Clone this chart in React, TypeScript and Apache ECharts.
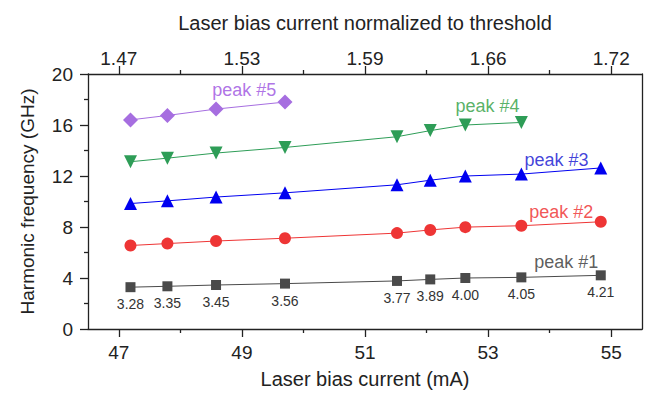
import React, { useEffect, useRef } from "react";
import * as echarts from "echarts";

const currents = [47.19, 47.79, 48.58, 49.7, 51.52, 52.06, 52.63, 53.54, 54.83];
const peak1 = [3.28, 3.35, 3.45, 3.56, 3.77, 3.89, 4.0, 4.05, 4.21];
const peak2 = [6.55, 6.7, 6.9, 7.12, 7.52, 7.77, 7.99, 8.1, 8.41];
const peak3 = [9.84, 10.05, 10.35, 10.68, 11.31, 11.67, 12.0, 12.15, 12.63];
const peak4 = [13.12, 13.4, 13.8, 14.24, 15.08, 15.56, 16.0, 16.2];
const peak5 = [16.4, 16.75, 17.25, 17.8];
const peak1Labels = ["3.28", "3.35", "3.45", "3.56", "3.77", "3.89", "4.00", "4.05", "4.21"];

const bottomTicks = [47, 49, 51, 53, 55];
const bottomMinorTicks = [48, 50, 52, 54];
const topTickLabels = ["1.47", "1.53", "1.59", "1.66", "1.72"];

const peakNames = ["peak #1", "peak #2", "peak #3", "peak #4", "peak #5"];
const peakNameX = [54.27, 54.19, 54.11, 52.99, 49.04];
const peakNameY = [5.25, 9.18, 13.25, 17.49, 18.75];

const colors = ["#4a4a4a", "#ee3535", "#0000f0", "#2e9d57", "#a66ee0"];
const textColors = ["#333333", "#ee2a2a", "#1010d0", "#2e9d40", "#9a4fe0"];
const symbols = ["rect", "circle", "triangle", "triangle", "diamond"];
const symbolSizes = [10, 12, 13, 13, 15];

const FONT = "Liberation Sans, Arial, sans-serif";

export default function App() {
  const ref = useRef<HTMLDivElement>(null);
  useEffect(() => {
    document.body.style.margin = "0";
    const chart = echarts.init(ref.current!, null, { renderer: "svg" });
    const peaks = [peak1, peak2, peak3, peak4, peak5];
    const axisLineStyle = { color: "#222", width: 1.3 };
    const series: any[] = peaks.map((vals, i) => ({
      type: "line",
      xAxisIndex: 0,
      yAxisIndex: 0,
      data: vals.map((v, j) => [currents[j], v]),
      symbol: symbols[i],
      symbolSize: symbolSizes[i],
      symbolRotate: i === 3 ? 180 : 0,
      showAllSymbol: true,
      lineStyle: { color: colors[i], width: 1 },
      itemStyle: { color: colors[i] },
      z: 3,
      label:
        i === 0
          ? {
              show: true,
              position: "bottom",
              distance: 5,
              fontFamily: FONT,
              fontSize: 14,
              color: "#333",
              formatter: (p: any) => peak1Labels[p.dataIndex],
            }
          : { show: false },
    }));
    series.push({
      type: "scatter",
      xAxisIndex: 0,
      yAxisIndex: 0,
      symbolSize: 0,
      silent: true,
      z: 4,
      data: peakNames.map((n, i) => ({
        value: [peakNameX[i], peakNameY[i]],
        label: {
          show: true,
          position: "inside",
          formatter: n,
          color: textColors[i],
          fontFamily: FONT,
          fontSize: 18,
        },
      })),
    });
    chart.setOption({
      animation: false,
      backgroundColor: "#fff",
      grid: { left: 88, right: 6, top: 74, bottom: 65, containLabel: false },
      xAxis: [
        {
          type: "value",
          position: "bottom",
          min: 46.5,
          max: 55.5,
          name: "Laser bias current (mA)",
          nameLocation: "middle",
          nameGap: 40,
          nameTextStyle: { fontFamily: FONT, fontSize: 20, color: "#222" },
          axisLine: { show: true, onZero: false, lineStyle: axisLineStyle },
          axisTick: { show: true, length: 8, customValues: bottomTicks, lineStyle: axisLineStyle },
          axisLabel: { show: true, customValues: bottomTicks, margin: 14, fontFamily: FONT, fontSize: 19, color: "#222" },
          splitLine: { show: false },
        },
        {
          type: "value",
          position: "top",
          min: 46.5,
          max: 55.5,
          name: "Laser bias current normalized to threshold",
          nameLocation: "middle",
          nameGap: 41,
          nameTextStyle: { fontFamily: FONT, fontSize: 20, color: "#222" },
          axisLine: { show: true, onZero: false, lineStyle: axisLineStyle },
          axisTick: { show: true, length: 8, customValues: bottomTicks, lineStyle: axisLineStyle },
          axisLabel: {
            show: true,
            customValues: bottomTicks,
            margin: 6,
            fontFamily: FONT,
            fontSize: 19,
            color: "#222",
            formatter: (v: number) => topTickLabels[bottomTicks.indexOf(v)] ?? "",
          },
          splitLine: { show: false },
        },
        {
          type: "value",
          position: "bottom",
          min: 46.5,
          max: 55.5,
          axisLine: { show: false, onZero: false },
          axisTick: { show: true, length: 4, customValues: bottomMinorTicks, lineStyle: axisLineStyle },
          axisLabel: { show: false },
          splitLine: { show: false },
        },
        {
          type: "value",
          position: "top",
          min: 46.5,
          max: 55.5,
          axisLine: { show: false, onZero: false },
          axisTick: { show: true, length: 4, customValues: bottomMinorTicks, lineStyle: axisLineStyle },
          axisLabel: { show: false },
          splitLine: { show: false },
        },
      ],
      yAxis: [
        {
          type: "value",
          position: "left",
          min: 0,
          max: 20,
          interval: 4,
          name: "Harmonic frequency (GHz)",
          nameLocation: "middle",
          nameGap: 51,
          nameTextStyle: { fontFamily: FONT, fontSize: 19, color: "#222" },
          axisLine: { show: true, onZero: false, lineStyle: axisLineStyle },
          axisTick: { show: true, length: 8, lineStyle: axisLineStyle },
          minorTick: { show: true, splitNumber: 2, length: 4, lineStyle: axisLineStyle },
          axisLabel: { margin: 15, fontFamily: FONT, fontSize: 19, color: "#222" },
          splitLine: { show: false },
          minorSplitLine: { show: false },
        },
        {
          type: "value",
          position: "right",
          min: 0,
          max: 20,
          interval: 4,
          axisLine: { show: true, onZero: false, lineStyle: axisLineStyle },
          axisTick: { show: false },
          axisLabel: { show: false },
          splitLine: { show: false },
        },
      ],
      series,
    });
    return () => chart.dispose();
  }, []);
  return <div ref={ref} style={{ width: 648, height: 394 }} />;
}
